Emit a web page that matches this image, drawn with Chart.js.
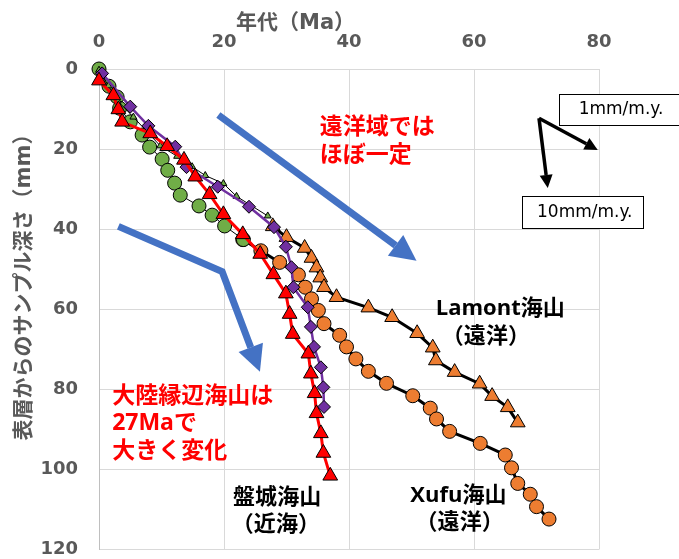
<!DOCTYPE html>
<html>
<head>
<meta charset="utf-8">
<script src="https://cdn.jsdelivr.net/npm/chart.js"></script>
<style>
  html, body { margin: 0; padding: 0; background: #fff; }
  .wrap { position: relative; width: 679px; height: 559px; }
</style>
</head>
<body>
<div class="wrap"><canvas id="ageChart"></canvas></div>
<script>
// age (Ma) vs sample depth from surface (mm)
const greenAge   = [0, 1.6, 2.9, 3.3, 5.0, 6.9, 8.1, 10.1, 11.0, 12.1, 13.0, 16.0, 18.1, 20.1, 23.1];
const greenDepth = [0, 4.3, 7.0, 9.8, 13.2, 16.5, 19.5, 22.5, 25.3, 28.5, 31.5, 34.2, 36.5, 39.2, 42.6];

const banjoAge   = [0, 2.3, 3.1, 3.7, 8.2, 10.9, 13.6, 15.4, 17.7, 19.9, 23.0, 25.8, 27.9, 29.9, 30.5, 31.0, 33.5, 33.9, 34.5, 34.8, 35.5, 35.9, 37.0];
const banjoDepth = [2.9, 6.6, 10.1, 13.2, 16.1, 19.3, 22.7, 26.9, 31.3, 36.3, 41.3, 46.2, 51.3, 56.1, 61.2, 66.2, 71.1, 76.1, 81.0, 86.0, 91.0, 95.9, 101.6];

const purpleAge   = [0.5, 5.0, 7.9, 12.2, 14.0, 19.0, 24.0, 28.0, 29.9, 30.8, 31.1, 33.4, 33.9, 34.4, 35.5, 35.9, 36.0];
const purpleDepth = [1.1, 9.4, 14.2, 19.4, 24.5, 29.4, 34.4, 39.5, 44.4, 49.5, 54.5, 59.5, 64.4, 69.4, 74.5, 79.5, 84.4];

const smallAge   = [0, 1.5, 3.0, 5.5, 9.8, 12.5, 14.9, 17.0, 19.9, 22.0, 27.0];
const smallDepth = [0.3, 4.2, 8.0, 12.0, 19.2, 21.8, 24.4, 26.6, 28.6, 31.8, 36.7];

const xufuAge   = [23.0, 25.9, 28.9, 31.9, 33.0, 34.0, 35.1, 36.0, 38.5, 39.6, 41.1, 43.1, 46.0, 50.2, 53.0, 54.0, 56.1, 61.0, 65.0, 66.0, 67.0, 69.0, 70.0, 72.0];
const xufuDepth = [42.6, 45.4, 48.3, 51.4, 54.5, 57.4, 60.3, 63.6, 66.5, 69.4, 72.4, 75.5, 78.5, 81.6, 84.7, 87.4, 90.5, 93.5, 96.4, 99.6, 103.5, 106.2, 109.3, 112.4];

const lamontAge   = [27.8, 30.0, 32.9, 34.0, 34.8, 35.4, 36.0, 38.0, 43.1, 46.9, 50.9, 53.4, 53.9, 56.9, 60.9, 62.9, 65.4, 67.0];
const lamontDepth = [39.3, 42.0, 44.7, 47.2, 49.6, 52.1, 54.5, 57.0, 59.6, 62.0, 66.0, 69.6, 72.8, 75.7, 78.6, 81.7, 84.5, 88.3];

const xTicks = [0, 20, 40, 60, 80];
const yTicks = [0, 20, 40, 60, 80, 100, 120];

const pts = (xs, ys) => xs.map((v, i) => ({ x: v, y: ys[i] }));

const TICK_FONT = '"DejaVu Sans", "Noto Sans CJK JP", sans-serif';
const LABEL_FONT = '"Open Sans", "Noto Sans CJK JP", sans-serif';
const GRAY = '#595959';
const BLUE = '#4472C4';
const RED = '#FF0000';

// notes drawn on top, placed in data units
const blueArrows = [
  [[19.1, 11.5], [50.8, 47.9]],
  [[3.1, 39.3], [19.7, 50.6], [25.75, 75.6]]
];
const blackArrows = [
  [[70.4, 12.3], [79.8, 20.2]],
  [[70.4, 12.3], [71.8, 29.7]]
];
const notes = [
  { text: '遠洋域では', x: 35.3, y: 14.7, color: RED, align: 'left', size: 23 },
  { text: 'ほぼ一定', x: 35.3, y: 21.5, color: RED, align: 'left', size: 23 },
  { text: '大陸縁辺海山は', x: 2.1, y: 81.7, color: RED, align: 'left', size: 23 },
  { text: '27Maで', x: 2.1, y: 88.6, color: RED, align: 'left', size: 23 },
  { text: '大きく変化', x: 2.1, y: 95.6, color: RED, align: 'left', size: 23 },
  { text: '盤城海山', x: 28.5, y: 107.0, color: '#000', align: 'center', size: 22 },
  { text: '（近海）', x: 28.3, y: 113.7, color: '#000', align: 'center', size: 22 },
  { text: 'Lamont海山', x: 64.2, y: 59.9, color: '#000', align: 'center', size: 22 },
  { text: '（遠洋）', x: 61.9, y: 66.8, color: '#000', align: 'center', size: 22 },
  { text: 'Xufu海山', x: 57.5, y: 106.5, color: '#000', align: 'center', size: 22 },
  { text: '（遠洋）', x: 57.7, y: 113.2, color: '#000', align: 'center', size: 22 }
];
const boxes = [
  { text: '1mm/m.y.', x0: 73.6, y0: 6.3, x1: 93.0, y1: 14.0 },
  { text: '10mm/m.y.', x0: 67.7, y0: 31.8, x1: 87.1, y1: 39.8 }
];

function arrow(ctx, path, color, width, headLen, headHalf) {
  const n = path.length;
  const [tx, ty] = path[n - 1];
  const [px, py] = path[n - 2];
  const ang = Math.atan2(ty - py, tx - px);
  const bx = tx - Math.cos(ang) * headLen;
  const by = ty - Math.sin(ang) * headLen;
  ctx.save();
  ctx.strokeStyle = color;
  ctx.fillStyle = color;
  ctx.lineWidth = width;
  ctx.lineJoin = 'miter';
  ctx.beginPath();
  ctx.moveTo(path[0][0], path[0][1]);
  for (let i = 1; i < n - 1; i++) ctx.lineTo(path[i][0], path[i][1]);
  ctx.lineTo(bx, by);
  ctx.stroke();
  ctx.beginPath();
  ctx.moveTo(tx, ty);
  ctx.lineTo(bx + Math.sin(ang) * headHalf, by - Math.cos(ang) * headHalf);
  ctx.lineTo(bx - Math.sin(ang) * headHalf, by + Math.cos(ang) * headHalf);
  ctx.closePath();
  ctx.fill();
  ctx.restore();
}

const notesPlugin = {
  id: 'notes',
  afterDraw(chart) {
    const { ctx, scales: { x, y } } = chart;
    const px = p => [x.getPixelForValue(p[0]), y.getPixelForValue(p[1])];

    blueArrows.forEach(a => arrow(ctx, a.map(px), BLUE, 7, 26, 13));
    blackArrows.forEach(a => arrow(ctx, a.map(px), '#000', 3.5, 13, 6.5));

    ctx.save();
    boxes.forEach(b => {
      const [x0, y0] = px([b.x0, b.y0]);
      const [x1, y1] = px([b.x1, b.y1]);
      ctx.fillStyle = '#fff';
      ctx.fillRect(x0, y0, x1 - x0, y1 - y0);
      ctx.strokeStyle = '#000';
      ctx.lineWidth = 1;
      ctx.strokeRect(Math.round(x0) + 0.5, Math.round(y0) + 0.5, Math.round(x1 - x0), Math.round(y1 - y0));
      ctx.fillStyle = '#000';
      ctx.font = '17px ' + TICK_FONT;
      ctx.textAlign = 'center';
      ctx.textBaseline = 'middle';
      ctx.fillText(b.text, (x0 + Math.min(x1, 679)) / 2 + 2, (y0 + y1) / 2);
    });

    notes.forEach(n => {
      const [tx, ty] = px([n.x, n.y]);
      ctx.fillStyle = n.color;
      ctx.font = 'bold ' + n.size + 'px ' + LABEL_FONT;
      ctx.textAlign = n.align;
      ctx.textBaseline = 'middle';
      ctx.fillText(n.text, tx, ty);
    });

    // axis titles
    ctx.fillStyle = GRAY;
    ctx.font = 'bold 21px ' + TICK_FONT;
    ctx.textAlign = 'left';
    ctx.textBaseline = 'middle';
    ctx.fillText('年代（Ma）', 236, 24);

    ctx.translate(25, 282);
    ctx.rotate(-Math.PI / 2);
    ctx.textAlign = 'center';
    ctx.font = 'bold 21px ' + TICK_FONT;
    ctx.fillText('表層からのサンプル深さ（mm）', 0, 0);
    ctx.restore();
  }
};

const series = (data, opts) => Object.assign({
  data: data,
  showLine: true,
  clip: false,
  pointBorderColor: '#000',
  pointBorderWidth: 1,
  pointHoverRadius: 0
}, opts);

new Chart(document.getElementById('ageChart').getContext('2d'), {
  type: 'scatter',
  data: {
    datasets: [
      series(pts(banjoAge, banjoDepth), {
        label: '盤城海山', borderColor: RED, borderWidth: 3,
        pointStyle: 'triangle', pointRadius: 8.5, pointBackgroundColor: RED
      }),
      series(pts(purpleAge, purpleDepth), {
        borderColor: '#7030A0', borderWidth: 2.5,
        pointStyle: 'rectRot', pointRadius: 6.5, pointBackgroundColor: '#7030A0'
      }),
      series(pts(smallAge, smallDepth), {
        borderColor: '#000', borderWidth: 1,
        pointStyle: 'triangle', pointRadius: 4, pointBackgroundColor: '#70AD47'
      }),
      series(pts(greenAge, greenDepth), {
        borderColor: '#000', borderWidth: 1,
        pointStyle: 'circle', pointRadius: 7, pointBackgroundColor: '#70AD47'
      }),
      series(pts(xufuAge, xufuDepth), {
        label: 'Xufu海山', borderColor: '#000', borderWidth: 3,
        pointStyle: 'circle', pointRadius: 7, pointBackgroundColor: '#ED7D31'
      }),
      series(pts(lamontAge, lamontDepth), {
        label: 'Lamont海山', borderColor: '#000', borderWidth: 3,
        pointStyle: 'triangle', pointRadius: 8.5, pointBackgroundColor: '#ED7D31'
      })
    ]
  },
  options: {
    responsive: true,
    maintainAspectRatio: false,
    animation: false,
    events: [],
    layout: { padding: { top: 0, left: 0, right: 80, bottom: 7 } },
    scales: {
      x: {
        type: 'linear',
        position: 'top',
        min: 0,
        max: 80,
        afterBuildTicks: s => { s.ticks = xTicks.map(v => ({ value: v })); },
        afterFit: s => { s.height = 69; s.paddingLeft = 0; s.paddingRight = 0; },
        ticks: {
          color: GRAY,
          padding: 16,
          maxRotation: 0,
          font: { family: TICK_FONT, size: 18, weight: 'bold' }
        },
        grid: { color: '#D9D9D9', lineWidth: 1, drawTicks: false },
        border: { color: '#D9D9D9' }
      },
      y: {
        type: 'linear',
        reverse: true,
        min: 0,
        max: 120,
        afterBuildTicks: s => { s.ticks = yTicks.map(v => ({ value: v })); },
        afterFit: s => { s.width = 99; s.paddingTop = 0; s.paddingBottom = 0; },
        ticks: {
          color: GRAY,
          padding: 21,
          font: { family: TICK_FONT, size: 18, weight: 'bold' }
        },
        grid: { color: '#D9D9D9', lineWidth: 1, drawTicks: false },
        border: { color: '#BFBFBF' }
      }
    },
    plugins: {
      legend: { display: false },
      tooltip: { enabled: false }
    }
  },
  plugins: [notesPlugin]
});
</script>
</body>
</html>
